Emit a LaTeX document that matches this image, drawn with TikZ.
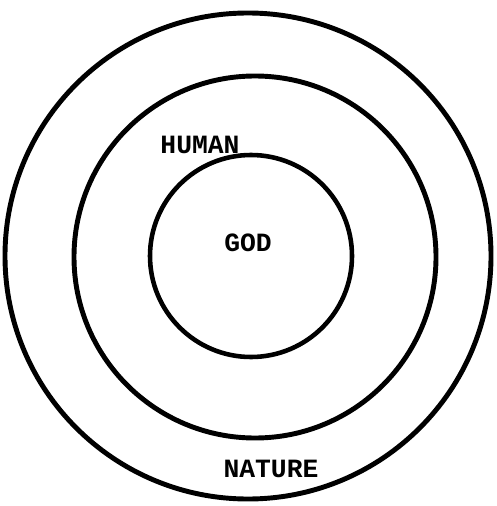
\documentclass[tikz,border=0pt]{standalone}
\usepackage{fontspec}
\setmonofont{Liberation Mono}
\usetikzlibrary{positioning}
\tikzset{
  ring/.style={circle, draw=black, line width=#1, inner sep=0pt},
  ring/.default=2.2pt,
  lbl/.style={font=\ttfamily\bfseries\fontsize{15}{15}\selectfont, inner sep=0pt},
}

\begin{document}
\begin{tikzpicture}[x=0.02cm,y=-0.02cm]
  \useasboundingbox (0,0) rectangle (496,506);

  % rings
  \node[ring=2.8pt, minimum size=486*0.02cm] (nature) at (248,256) {};
  \node[ring=2.8pt, minimum size=362*0.02cm] (human) at (255,257) {};
  \node[ring=2.6pt, minimum size=202*0.02cm] (god) at (251,256) {};

  % labels
  \node[lbl] (humanlbl) at (200,145) {HUMAN};
  \node[lbl] (godlbl) at (248,243) {GOD};
  \node[lbl] (naturelbl) at (271,469) {NATURE};
\end{tikzpicture}
\end{document}
